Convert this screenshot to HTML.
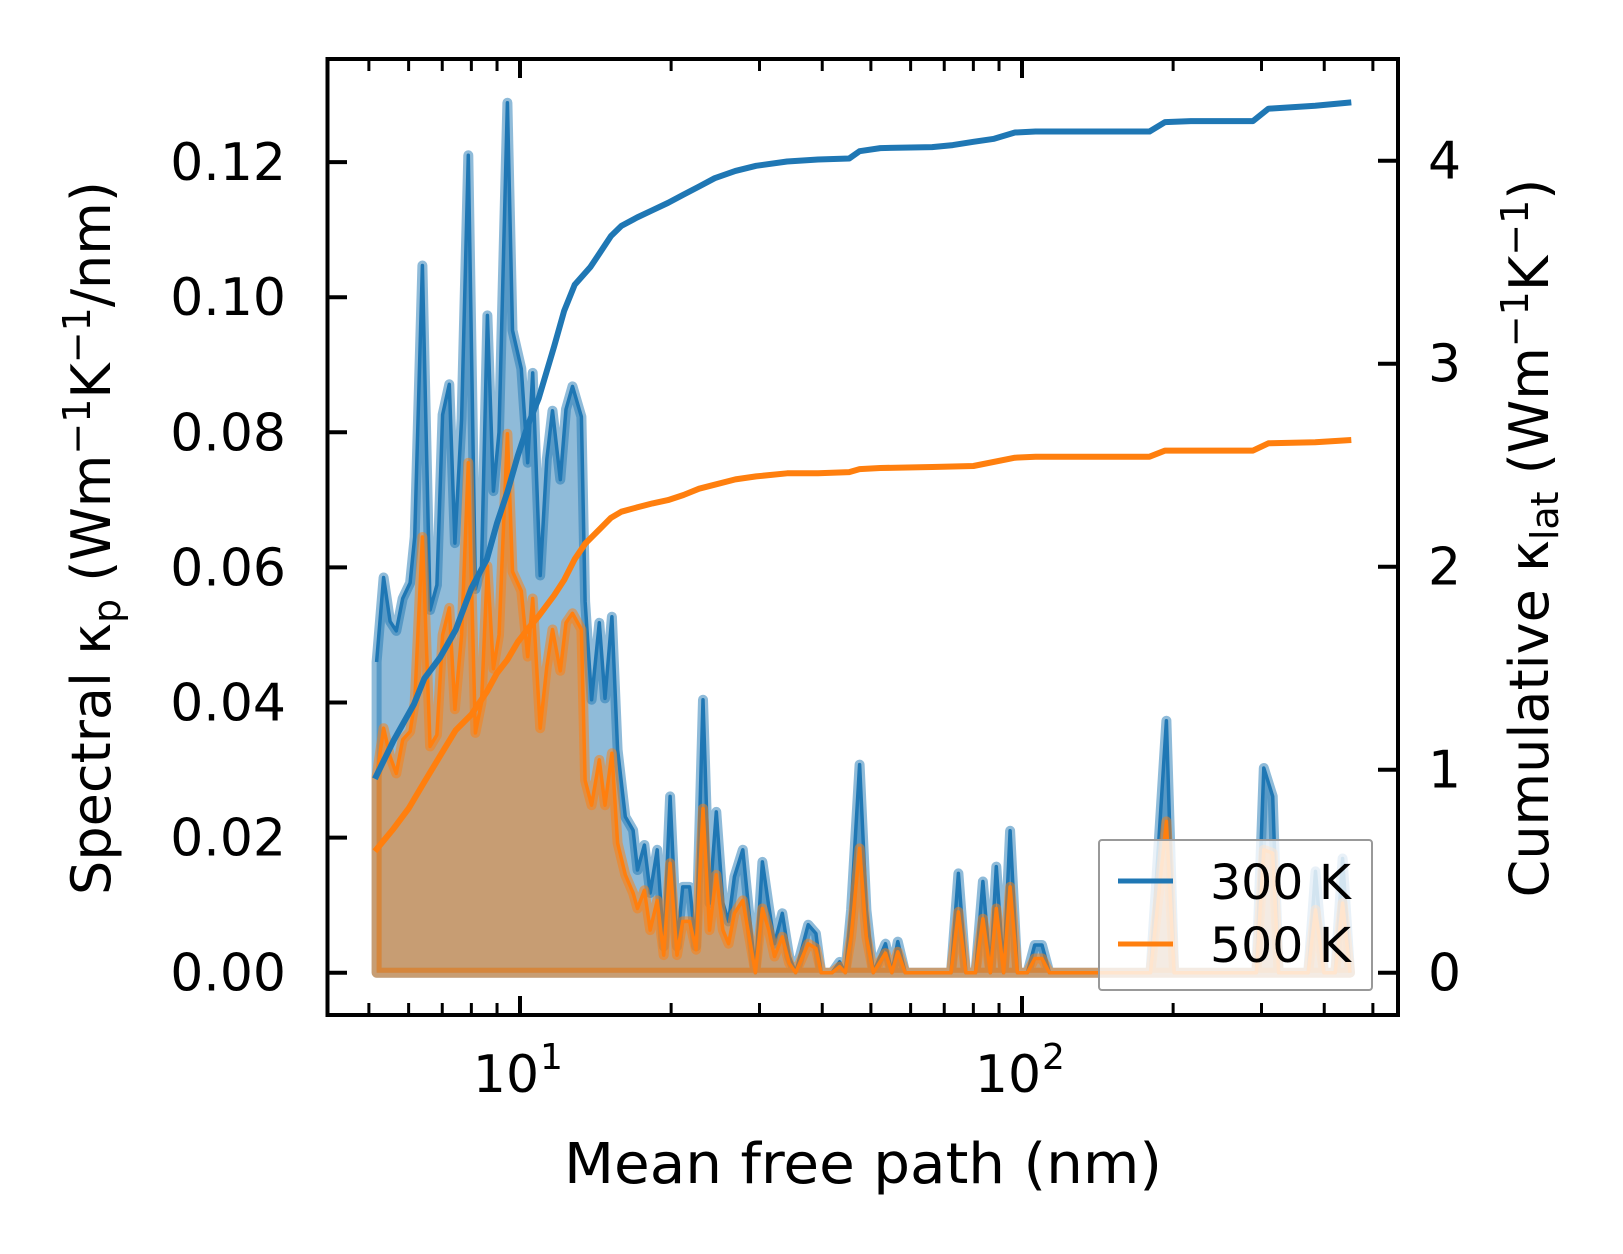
<!DOCTYPE html>
<html><head><meta charset="utf-8"><style>
html,body{margin:0;padding:0;background:#fff;}
svg{display:block;font-family:"DejaVu Sans","Liberation Sans",sans-serif;}
</style></head><body>
<svg id="chart" width="1623" height="1254" viewBox="0 0 1623 1254" xmlns="http://www.w3.org/2000/svg">
<defs><clipPath id="clip"><rect x="327.5" y="59" width="1070.5" height="956"/></clipPath></defs>
<rect width="1623" height="1254" fill="#fff"/>
<g id="spec" clip-path="url(#clip)"></g>
<g id="cum" clip-path="url(#clip)"></g>
<g id="legend">
  <rect x="1099" y="840" width="273" height="150" rx="3" fill="#fff" fill-opacity="0.8" stroke="#999" stroke-width="2"/>
  <line x1="1118" y1="881" x2="1173" y2="881" stroke="#1f77b4" stroke-width="5"/>
  <text x="1210" y="899" font-size="48" textLength="141" lengthAdjust="spacingAndGlyphs">300 K</text>
  <line x1="1118" y1="944" x2="1173" y2="944" stroke="#ff7f0e" stroke-width="5"/>
  <text x="1210" y="962" font-size="48" textLength="141" lengthAdjust="spacingAndGlyphs">500 K</text>
</g>
<g id="axes"></g>
<rect x="327.5" y="59" width="1070.5" height="956" fill="none" stroke="#000" stroke-width="4"/>
<text x="863" y="1183" font-size="56" text-anchor="middle" textLength="598" lengthAdjust="spacingAndGlyphs">Mean free path (nm)</text>
<text transform="translate(110,538) rotate(-90)" font-size="54" text-anchor="middle">Spectral κ<tspan font-size="38" dy="10">p</tspan><tspan dy="-10"> (Wm</tspan><tspan font-size="38" dy="-20">−1</tspan><tspan dy="20">K</tspan><tspan font-size="38" dy="-20">−1</tspan><tspan dy="20">/nm)</tspan></text>
<text transform="translate(1548,538) rotate(-90)" font-size="54" text-anchor="middle">Cumulative κ<tspan font-size="38" dy="10">lat</tspan><tspan dy="-10"> (Wm</tspan><tspan font-size="38" dy="-20">−1</tspan><tspan dy="20">K</tspan><tspan font-size="38" dy="-20">−1</tspan><tspan dy="20">)</tspan></text>
<script>
const mfp=[5.18,5.35,5.51,5.67,5.84,6.04,6.17,6.39,6.62,6.83,7.01,7.23,7.42,7.65,7.89,8.15,8.38,8.61,8.85,9.08,9.44,9.66,10.06,10.36,10.60,10.97,11.31,11.61,12.03,12.35,12.72,13.25,13.48,13.89,14.39,14.77,15.24,15.65,16.21,16.80,17.14,17.69,18.17,18.76,19.33,19.91,20.55,21.09,21.77,22.43,23.15,23.85,24.61,25.36,26.03,26.73,27.79,28.69,29.44,30.40,31.31,32.14,33.30,34.37,35.40,37.51,38.86,39.81,41.83,43.32,44.47,45.67,47.47,48.98,50.56,53.46,55.05,56.56,58.52,72.2,74.7,77.3,80.8,83.6,86.5,88.9,91.9,94.7,97.9,102.5,106.0,109.6,113.4,180.3,193.9,200.9,293.0,303.1,315.8,324.5,371.6,384.3,399.4,420.6,435.1,450.2];
const k300=[0.046,0.0585,0.052,0.0506,0.0554,0.0577,0.0645,0.1047,0.0537,0.0574,0.0826,0.0871,0.0636,0.082,0.121,0.0568,0.060,0.0973,0.0713,0.080,0.1288,0.0951,0.0894,0.0755,0.0888,0.0588,0.076,0.0832,0.073,0.0834,0.0868,0.0823,0.055,0.0404,0.0518,0.0406,0.0527,0.033,0.0231,0.0211,0.0152,0.0189,0.0118,0.0182,0.0039,0.0261,0.0039,0.0127,0.0127,0.0039,0.0404,0.0103,0.0238,0.0103,0.0076,0.0142,0.0182,0.0078,0,0.0164,0.0098,0.0043,0.0088,0.0024,0,0.0071,0.0058,0,0,0.0016,0,0.0093,0.0308,0.0093,0,0.0043,0,0.0046,0,0,0.0147,0,0,0.0135,0,0.0157,0,0.021,0,0,0.0041,0.0041,0,0,0.0373,0,0,0.0303,0.0261,0,0,0.015,0,0,0.0169,0];
const k500=[0.029,0.0362,0.032,0.0295,0.0345,0.0357,0.040,0.0645,0.0335,0.0352,0.050,0.054,0.039,0.050,0.0755,0.0355,0.040,0.0602,0.045,0.050,0.0798,0.0594,0.0565,0.0468,0.0554,0.0362,0.0453,0.0508,0.0447,0.0518,0.0532,0.0508,0.0285,0.0248,0.0315,0.0248,0.0325,0.0192,0.0145,0.0118,0.0095,0.0122,0.0063,0.0107,0.0026,0.0162,0.0026,0.0076,0.0076,0.0034,0.0243,0.0063,0.0145,0.0063,0.0043,0.0088,0.0107,0.0048,0,0.0095,0.0063,0.0024,0.0053,0.0014,0,0.0043,0.0036,0,0,0.0009,0,0.0053,0.0184,0.0053,0,0.0029,0,0.0031,0,0,0.009,0,0,0.008,0,0.0095,0,0.0127,0,0,0.0021,0.0021,0,0,0.0224,0,0,0.0182,0.0177,0,0,0.0093,0,0,0.0103,0];
const cumX300=[5.14,5.60,6.15,6.45,6.93,7.45,8.00,8.59,9.00,9.44,9.90,10.38,10.89,11.69,12.25,12.85,13.80,14.48,15.18,15.92,17.10,18.36,19.72,21.17,22.74,24.43,26.86,29.53,34.04,39.24,45.27,47.47,52.2,66.2,72.8,80.0,88.0,96.8,106.4,179.5,192.8,216.9,288.5,309.6,383.7,452.9];
const cum300=[0.955,1.144,1.323,1.450,1.552,1.690,1.894,2.037,2.215,2.368,2.547,2.700,2.828,3.083,3.261,3.389,3.475,3.552,3.629,3.679,3.720,3.756,3.792,3.833,3.873,3.914,3.950,3.975,3.996,4.006,4.011,4.047,4.062,4.067,4.077,4.093,4.108,4.139,4.144,4.144,4.190,4.195,4.195,4.256,4.271,4.287];
const cumX500=[5.14,5.60,6.01,6.45,6.93,7.45,8.00,8.59,9.00,9.44,9.90,10.38,10.89,11.69,12.25,12.85,13.48,14.48,15.18,15.92,17.10,18.36,19.72,21.17,22.74,24.43,26.86,29.53,34.04,39.24,45.27,47.47,52.2,66.2,80.0,96.8,106.4,179.5,192.8,288.5,309.6,383.7,452.9];
const cum500=[0.598,0.710,0.812,0.940,1.067,1.195,1.272,1.384,1.476,1.542,1.629,1.695,1.756,1.858,1.935,2.037,2.113,2.190,2.241,2.271,2.292,2.312,2.328,2.353,2.384,2.404,2.430,2.445,2.460,2.460,2.466,2.481,2.486,2.491,2.496,2.537,2.542,2.542,2.572,2.572,2.608,2.613,2.624];
const leftTicks=[0,0.02,0.04,0.06,0.08,0.10,0.12];
const leftTickLabels=["0.00","0.02","0.04","0.06","0.08","0.10","0.12"];
const rightTicks=[0,1,2,3,4];
const xMajor=[10,100];
const xMajorExp=["1","2"];
const xMinor=[5,6,7,8,9,20,30,40,50,60,70,80,90,200,300,400,500];

const NS="http://www.w3.org/2000/svg";
function xPx(v){return 520+(Math.log10(v)-1)*502;}
function yL(v){return 972.7-v/0.02*135.1;}
function yR(v){return 972.7-v*203;}
function mk(tag,attrs,parent){const e=document.createElementNS(NS,tag);for(const k in attrs)e.setAttribute(k,attrs[k]);parent.appendChild(e);return e;}

const spec=document.getElementById('spec');
function drawSpec(vals,color,name){
  let pts=vals.map((v,i)=>xPx(mfp[i]).toFixed(1)+','+yL(v).toFixed(1));
  const x0=xPx(mfp[0]).toFixed(1), x1=xPx(mfp[mfp.length-1]).toFixed(1), b=yL(0).toFixed(1);
  const poly=mk('polygon',{points:x0+','+b+' '+pts.join(' ')+' '+x1+','+b,fill:color,'fill-opacity':0.5,stroke:color,'stroke-opacity':0.5,'stroke-width':10,'stroke-linejoin':'round'},spec);
  
  
  const line=mk('polyline',{points:pts.join(' '),fill:'none',stroke:color,'stroke-width':3.5,'stroke-linejoin':'round'},spec);
  
  
}
drawSpec(k300,'#1f77b4','spectral-300k');
drawSpec(k500,'#ff7f0e','spectral-500k');

const cum=document.getElementById('cum');
function drawCum(xs,vals,color,name){
  const pts=vals.map((v,i)=>xPx(xs[i]).toFixed(1)+','+yR(v).toFixed(1)).join(' ');
  const l=mk('polyline',{points:pts,fill:'none',stroke:color,'stroke-width':6,'stroke-linejoin':'round'},cum);
  
  
}
drawCum(cumX300,cum300,'#1f77b4','cumulative-300k-line');
drawCum(cumX500,cum500,'#ff7f0e','cumulative-500k-line');

const ax=document.getElementById('axes');
leftTicks.forEach((t,i)=>{
  const y=yL(t);
  const tk=mk('line',{x1:327.5,x2:347,y1:y,y2:y,stroke:'#000','stroke-width':4},ax);
  
  
  const tx=mk('text',{x:286,y:y+18,'font-size':52,'text-anchor':'end'},ax);
  tx.textContent=leftTickLabels[i];
  
  
});
rightTicks.forEach(t=>{
  const y=yR(t);
  const tk=mk('line',{x1:1378,x2:1398,y1:y,y2:y,stroke:'#000','stroke-width':4},ax);
  
  
  const tx=mk('text',{x:1428,y:y+18,'font-size':52},ax);
  tx.textContent=String(t);
  
  
});
xMajor.forEach((t,i)=>{
  const x=xPx(t);
  [[1015,996],[59,78]].forEach(p=>{
    const tk=mk('line',{x1:x,x2:x,y1:p[0],y2:p[1],stroke:'#000','stroke-width':4},ax);
    
    
  });
  const tx=mk('text',{x:x-14,y:1092,'font-size':52,'text-anchor':'middle'},ax);
  tx.textContent='10';
  
  
  const ex=mk('text',{x:x+20,y:1069,'font-size':36},ax);
  ex.textContent=xMajorExp[i];
  
  
});
xMinor.forEach(t=>{
  const x=xPx(t);
  [[1015,1003],[59,71]].forEach(p=>{
    const tk=mk('line',{x1:x,x2:x,y1:p[0],y2:p[1],stroke:'#000','stroke-width':3},ax);
    
    
  });
});
</script>
</svg>
</body></html>
